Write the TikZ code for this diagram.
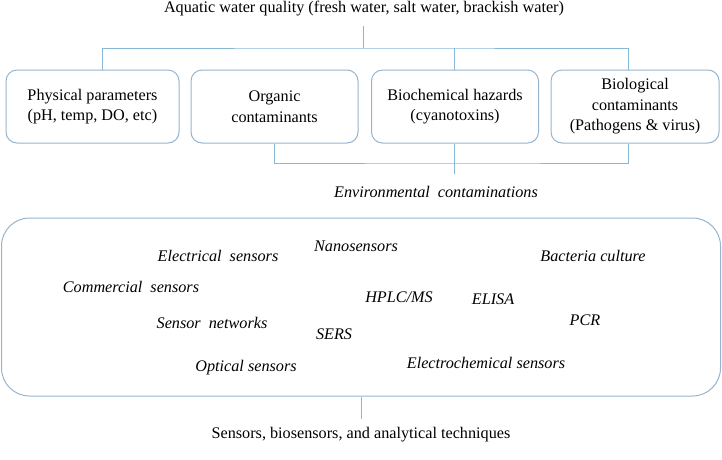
\documentclass[tikz,border=0pt]{standalone}
\usepackage{fontspec}
\setmainfont{Liberation Serif}
\definecolor{linec}{RGB}{135,185,215}
\definecolor{boxc}{RGB}{150,180,205}
\begin{document}
\begin{tikzpicture}[x=1pt,y=-1pt,
 cat/.style={draw=boxc, line width=1pt, rounded corners=11pt, minimum height=73pt, align=center, font=\fontsize{16.2}{20.5}\selectfont, inner sep=0pt},
 conn/.style={draw=linec, line width=1pt},
 tech/.style={font=\fontsize{16.2}{18}\selectfont\itshape, inner sep=0pt},
 lbl/.style={font=\fontsize{16.2}{18}\selectfont, inner sep=0pt}]
\useasboundingbox (0,0) rectangle (722,459);
\node[lbl] (title) at (364,9) {Aquatic water quality (fresh water, salt water, brackish water)};
\coordinate (t0) at (363,26);
\coordinate (hub) at (363,48);
\node[cat, minimum width=173pt] (b1) at (92.5,106.5) {Physical parameters\\(pH, temp, DO, etc)};
\node[cat, minimum width=167pt] (b2) at (274.5,106.5) {Organic\\contaminants};
\node[cat, minimum width=167pt] (b3) at (455,106.5) {Biochemical hazards\\(cyanotoxins)};
\node[cat, minimum width=168pt] (b4) at (635,106.5) {Biological\\contaminants\\(Pathogens \& virus)};
\draw[conn] (t0) -- (hub);
\draw[conn] ([xshift=9.5pt]b1.north) |- (hub) -| ([xshift=-7pt]b4.north);
\draw[conn] ([xshift=-1pt]b3.north) -- ([xshift=-1pt]b3.north |- hub);
\coordinate (h2) at (454,163);
\coordinate (env) at (454,174);
\draw[conn] (b2.south) |- (h2) -| ([xshift=-7pt]b4.south);
\draw[conn] ([xshift=-1pt]b3.south) -- (env);
\node[tech] (envt) at (436,192) {Environmental\ \ contaminations};
\node[draw=boxc, line width=1pt, rounded corners=28pt, minimum width=719pt, minimum height=178pt, inner sep=0pt] (big) at (361,307) {};
\coordinate (bend) at (361,419);
\draw[conn] (big.south) -- (bend);
\node[lbl] (bottom) at (361,435) {Sensors, biosensors, and analytical techniques};
\node[tech] (t1) at (218,256) {Electrical\ \ sensors};
\node[tech] (t2) at (356,246) {Nanosensors};
\node[tech] (t3) at (593,256) {Bacteria culture};
\node[tech] (t4) at (131,287) {Commercial\ \ sensors};
\node[tech] (t5) at (399,297) {HPLC/MS};
\node[tech] (t6) at (493,299) {ELISA};
\node[tech] (t7) at (585,320) {PCR};
\node[tech] (t8) at (212,323) {Sensor\ \ networks};
\node[tech] (t9) at (334,334) {SERS};
\node[tech] (t10) at (246,368) {Optical sensors};
\node[tech] (t11) at (486,363) {Electrochemical sensors};
\end{tikzpicture}
\end{document}
